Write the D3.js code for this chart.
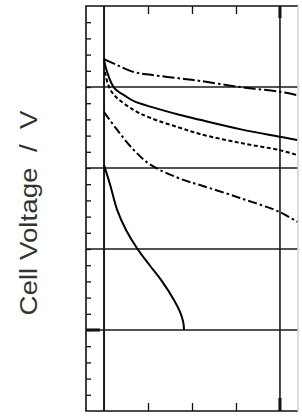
<!DOCTYPE html>
<head>
	<meta charset="utf-8">
	<title>Cell Voltage</title>
	<style>
		body {
			margin: 0;
			padding: 0;
			background-color: #fff;
			font-family: 'Liberation Sans', Arial, sans-serif;
		}

		.grid line {
			stroke: #1a1a1a;
			stroke-width: 1.6;
		}

		.axis path {
			display: none;
		}

		.axis line {
			stroke: #111;
			stroke-width: 1.3;
		}

		.axis text {
			display: none;
		}

		.curve {
			fill: none;
			stroke: #000;
			stroke-width: 2;
		}
	</style>
</head>
<body>
	<div id='vis'></div>

	<script src="https://cdn.jsdelivr.net/npm/d3@7/dist/d3.min.js"></script>
	<script>
		// current density (mA/cm2) and voltage (V)
		var curveA = [[0, 0.869], [30, 0.854], [68, 0.837], [107, 0.830], [182, 0.820], [218, 0.815], [309, 0.800], [400, 0.788], [439, 0.780]];
		var curveB = [[0, 0.867], [7, 0.837], [23, 0.798], [48, 0.778], [68, 0.765], [107, 0.751], [173, 0.731], [218, 0.719], [309, 0.696], [400, 0.677], [439, 0.669]];
		var curveC = [[2, 0.837], [9, 0.807], [23, 0.780], [68, 0.743], [107, 0.723], [173, 0.699], [218, 0.684], [309, 0.662], [400, 0.644], [439, 0.632]];
		var curveD = [[0, 0.738], [30, 0.694], [68, 0.644], [107, 0.607], [182, 0.570], [218, 0.558], [309, 0.526], [400, 0.491], [439, 0.467]];
		var curveE = [[0, 0.607], [14, 0.558], [30, 0.496], [50, 0.447], [75, 0.402], [105, 0.358], [130, 0.323], [159, 0.274], [173, 0.244], [180, 0.220], [182, 0.200]];

		var series = [
			{ name: 'A', values: curveA, dash: '12,3,2.5,3' },
			{ name: 'B', values: curveB, dash: null },
			{ name: 'C', values: curveC, dash: '4,2.5' },
			{ name: 'D', values: curveD, dash: '9,3,2.5,3' },
			{ name: 'E', values: curveE, dash: null }
		];

		var xGrid = [0, 400],
				yGrid = [0.2, 0.4, 0.6, 0.8],
				xTicks = [100, 200, 300],
				yTicks = d3.range(1, 25).map(function(i) { return i * 0.04; }),
				yLabel = 'Cell Voltage  /  V';

		var width = 302,
				height = 417;

		var svg = d3.select("#vis").append("svg")
			.attr("width", width)
			.attr("height", height);

		var x = d3.scaleLinear().domain([-41, 441]).range([86, 298]),
				y = d3.scaleLinear().domain([0, 1]).range([411, 6]);

		// minor ticks, pointing inward
		svg.append("g")
			.attr("class", "axis")
			.attr("transform", "translate(" + x.range()[0] + ",0)")
			.call(d3.axisLeft(y).tickValues(yTicks).tickSize(-5).tickFormat(""));

		svg.append("g")
			.attr("class", "axis")
			.attr("transform", "translate(0," + y.range()[0] + ")")
			.call(d3.axisBottom(x).tickValues(xTicks).tickSize(-8).tickFormat(""));

		svg.append("g")
			.attr("class", "axis")
			.attr("transform", "translate(0," + y.range()[1] + ")")
			.call(d3.axisTop(x).tickValues(xTicks).tickSize(-8).tickFormat(""));

		// heavy ticks
		svg.append("line")
			.attr("x1", x(400)).attr("x2", x(400))
			.attr("y1", y(1)).attr("y2", y(1) + 12)
			.attr("stroke", "#000").attr("stroke-width", 3);
		svg.append("line")
			.attr("x1", x(400)).attr("x2", x(400))
			.attr("y1", y(0)).attr("y2", y(0) - 13)
			.attr("stroke", "#000").attr("stroke-width", 3);
		svg.append("line")
			.attr("x1", x(-41)).attr("x2", x(-41) + 14)
			.attr("y1", y(0.2)).attr("y2", y(0.2))
			.attr("stroke", "#000").attr("stroke-width", 3);

		var grid = svg.append("g").attr("class", "grid");

		grid.selectAll("line.h")
			.data(yGrid)
			.enter().append("line")
				.attr("class", "h")
				.attr("x1", x(-41)).attr("x2", x(441))
				.attr("y1", function(d) { return y(d); })
				.attr("y2", function(d) { return y(d); });

		grid.selectAll("line.v")
			.data(xGrid)
			.enter().append("line")
				.attr("class", "v")
				.attr("x1", function(d) { return x(d); })
				.attr("x2", function(d) { return x(d); })
				.attr("y1", y(0)).attr("y2", y(1))
				.style("stroke-width", function(d) { return d == 0 ? 2 : 1.6; });

		// frame
		svg.append("path")
			.attr("d", "M" + x(441) + "," + y(1) + "H" + x(-41) + "V" + y(0) + "H" + x(441))
			.attr("fill", "none")
			.attr("stroke", "#111")
			.attr("stroke-width", 1.6);
		svg.append("line")
			.attr("x1", x(441)).attr("x2", x(441))
			.attr("y1", y(1)).attr("y2", y(0))
			.attr("stroke", "#d0d0d0")
			.attr("stroke-width", 1.5);

		var line = d3.line()
			.x(function(d) { return x(d[0]); })
			.y(function(d) { return y(d[1]); })
			.curve(d3.curveCatmullRom.alpha(0.5));

		svg.append("g")
			.selectAll("path")
			.data(series)
			.enter().append("path")
				.attr("class", "curve")
				.attr("d", function(d) { return line(d.values); })
				.attr("stroke-dasharray", function(d) { return d.dash; });

		svg.append("text")
			.attr("transform", "translate(37," + 213 + ") rotate(-90)")
			.attr("text-anchor", "middle")
			.attr("font-size", 23)
			.attr("fill", "#333")
			.attr("textLength", 205)
			.attr("lengthAdjust", "spacingAndGlyphs")
			.style("white-space", "pre")
			.text(yLabel);
	</script>
</body>
